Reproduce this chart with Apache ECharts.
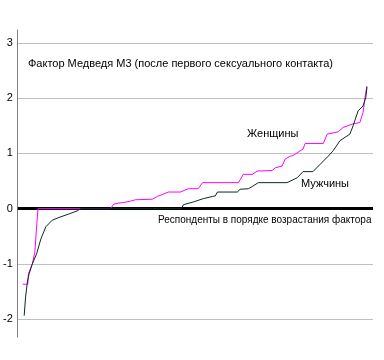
<!DOCTYPE html>
<html>
<head>
<meta charset="utf-8">
<script src="https://cdn.jsdelivr.net/npm/echarts@6/dist/echarts.min.js"></script>
<style>html,body{margin:0;padding:0;background:#fff}#c{width:384px;height:360px}</style>
</head>
<body>
<div id="c"></div>
<script>
// respondent rank (percent of sample), factor value
const womenX = [1.4,2.8,3.0,4.1,4.8,5.3,5.7,26.1,27.0,28.4,29.8,31.7,33.1,37.9,39.3,42.4,45.8,48.0,50.8,52.0,62.1,63.5,66.0,67.4,71.6,72.5,74.4,75.3,76.7,77.5,80.3,80.9,86.0,87.1,90.2,91.6,94.1,96.3,97.2,97.8,98.3];
const womenY = [-1.37,-1.37,-1.18,-1.0,-0.79,-0.33,0,0,0.08,0.10,0.11,0.135,0.16,0.17,0.22,0.30,0.30,0.36,0.36,0.47,0.47,0.62,0.62,0.68,0.69,0.74,0.77,0.90,0.95,0.96,1.08,1.18,1.18,1.35,1.39,1.47,1.53,1.56,1.74,2.04,2.22];
const menX = [1.8,2.2,2.7,3.2,4.1,5.3,6.5,7.9,9.7,11.6,14.3,16.8,17.7,46.1,46.6,49.4,52.2,54.8,55.6,56.2,61.8,62.6,64.9,66.0,67.7,75.8,78.7,80.3,83.1,85.7,87.4,88.8,90.7,93.5,94.4,95.8,97.2,98.0,98.3];
const menY = [-1.94,-1.6,-1.33,-1.18,-1.0,-0.82,-0.55,-0.33,-0.21,-0.16,-0.10,-0.04,0,0,0.07,0.12,0.18,0.22,0.23,0.30,0.30,0.35,0.36,0.40,0.47,0.47,0.56,0.67,0.67,0.84,0.95,1.05,1.23,1.35,1.50,1.77,1.86,2.02,2.2];
const yMin = -2, yMax = 3, yStep = 1;
const titleText = 'Фактор Медведя М3 (после первого сексуального контакта)';
const womenLabel = 'Женщины';
const menLabel = 'Мужчины';
const xAxisLabel = 'Респонденты в порядке возрастания фактора';

const zip = (xs, ys) => xs.map((x, i) => [x, ys[i]]);
const FONT = '"Liberation Sans", Arial, sans-serif';
const chart = echarts.init(document.getElementById('c'), null, {renderer: 'canvas'});
const frameAxis = (gridIndex, position) => ({
  type: 'value', gridIndex, position, min: 0, max: 1,
  axisLine: {show: true, lineStyle: {color: '#808080', width: 1}},
  axisTick: {show: false}, axisLabel: {show: false}, splitLine: {show: false}
});
chart.setOption({
  animation: false,
  backgroundColor: '#ffffff',
  grid: [
    {left: 17, right: 11, top: 43, bottom: 41},
    {left: 17, right: 11, top: 32, bottom: 23},
    {left: 17, right: 11, top: 30, bottom: 28}
  ],
  xAxis: [
    {type: 'value', gridIndex: 0, min: 0, max: 100, show: false},
    {type: 'value', gridIndex: 1, min: 0, max: 1, show: false},
    {type: 'value', gridIndex: 2, min: 0, max: 1, show: false}
  ],
  yAxis: [{
    type: 'value', gridIndex: 0, min: yMin, max: yMax, interval: yStep,
    axisLine: {show: false},
    axisTick: {show: false},
    splitLine: {show: true, lineStyle: {color: '#c0c0c0', width: 1}},
    axisLabel: {color: '#000', fontSize: 11, fontFamily: FONT, margin: 5}
  }, frameAxis(1, 'left'), frameAxis(2, 'right')],
  series: [
    {
      type: 'line', xAxisIndex: 0, yAxisIndex: 0, data: zip(womenX, womenY),
      showSymbol: false, symbol: 'none',
      lineStyle: {color: '#ff00ff', width: 1}, z: 3
    },
    {
      type: 'line', xAxisIndex: 0, yAxisIndex: 0, data: zip(menX, menY),
      showSymbol: false, symbol: 'none',
      lineStyle: {color: '#0b2b22', width: 1}, z: 4,
      markLine: {
        silent: true, symbol: 'none', label: {show: false}, z: 1,
        lineStyle: {color: '#000000', width: 3, type: 'solid'},
        data: [{yAxis: 0}]
      }
    }
  ],
  graphic: [
    {type: 'text', left: 28, top: 58, style: {text: titleText, font: '11px ' + FONT, fill: '#000'}},
    {type: 'text', left: 247, top: 128, style: {text: womenLabel, font: '11px ' + FONT, fill: '#000'}},
    {type: 'text', left: 301, top: 178, style: {text: menLabel, font: '11px ' + FONT, fill: '#000'}},
    {type: 'text', left: 158, top: 215, style: {text: xAxisLabel, font: '10px ' + FONT, fill: '#000'}}
  ]
});
</script>
</body>
</html>
